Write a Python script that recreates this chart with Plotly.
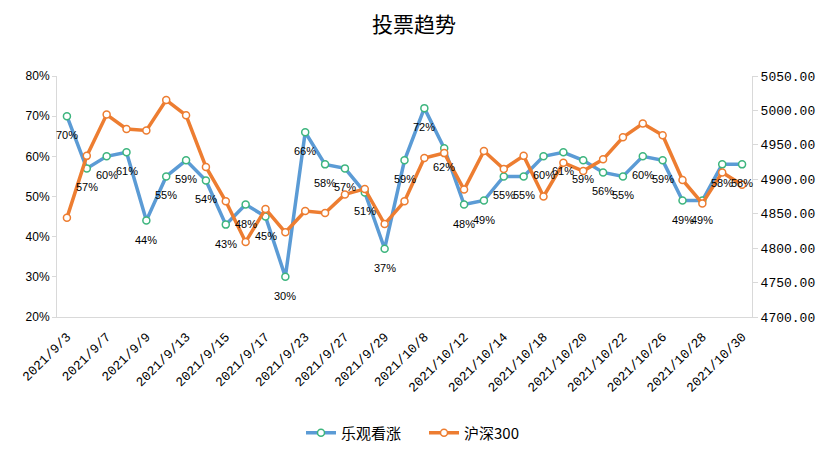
import plotly.graph_objects as go

dates = ["2021/9/3", "2021/9/6", "2021/9/7", "2021/9/8", "2021/9/9", "2021/9/10",
         "2021/9/13", "2021/9/14", "2021/9/15", "2021/9/16", "2021/9/17",
         "2021/9/22", "2021/9/23", "2021/9/24", "2021/9/27", "2021/9/28",
         "2021/9/29", "2021/9/30", "2021/10/8", "2021/10/11", "2021/10/12",
         "2021/10/13", "2021/10/14", "2021/10/15", "2021/10/18", "2021/10/19",
         "2021/10/20", "2021/10/21", "2021/10/22", "2021/10/25", "2021/10/26",
         "2021/10/27", "2021/10/28", "2021/10/29", "2021/10/30"]

bullish = [0.70, 0.57, 0.60, 0.61, 0.44, 0.55, 0.59, 0.54, 0.43, 0.48, 0.45,
           0.30, 0.66, 0.58, 0.57, 0.51, 0.37, 0.59, 0.72, 0.62, 0.48, 0.49,
           0.55, 0.55, 0.60, 0.61, 0.59, 0.56, 0.55, 0.60, 0.59, 0.49, 0.49,
           0.58, 0.58]

csi300 = [4844, 4934, 4994, 4973, 4971, 5015, 4993, 4918, 4868, 4809, 4857,
          4823, 4854, 4851, 4878, 4886, 4835, 4868, 4931, 4938, 4885, 4941,
          4915, 4934, 4875, 4924, 4912, 4929, 4961, 4981, 4964, 4899, 4865,
          4910, 4892]

tick_dates = dates[0::2]

name_bull = "乐观看涨"
name_csi = "沪深300"
title_text = "投票趋势"

BLUE = "#5B9BD5"
GREEN = "#3DB57E"
ORANGE = "#ED7D31"
AXIS = "#D9D9D9"
CJK = "Noto Sans CJK SC"
MONO = "Liberation Mono"

# the page body has an 8px margin; size the figure so it fits the window
W, H = 819, 465

fig = go.Figure()
fig.add_trace(go.Scatter(
    x=dates, y=bullish, name=name_bull, mode="lines+markers",
    line=dict(color=BLUE, width=3.5),
    marker=dict(size=7, color="white", line=dict(color=GREEN, width=1.5)),
    yaxis="y", hoverinfo="skip"))
fig.add_trace(go.Scatter(
    x=dates, y=csi300, name=name_csi, mode="lines+markers",
    line=dict(color=ORANGE, width=3.5),
    marker=dict(size=7, color="white", line=dict(color=ORANGE, width=1.5)),
    yaxis="y2", hoverinfo="skip"))

annotations = []
for d, v in zip(dates, bullish):
    annotations.append(dict(
        x=d, y=v, xref="x", yref="y", text=f"{round(v*100)}%",
        showarrow=False, yshift=-19,
        font=dict(family="Liberation Sans", size=11, color="#000000")))

fig.update_layout(
    width=W, height=H,
    margin=dict(l=43, r=73, t=68, b=156),
    paper_bgcolor="white", plot_bgcolor="white",
    title=dict(text=title_text, x=406 / W, xanchor="center", xref="container",
               y=1 - 17 / H, yanchor="middle", yref="container",
               font=dict(family=CJK, size=21, color="#000000")),
    showlegend=True,
    legend=dict(orientation="h", x=416 / W, xanchor="center", xref="container",
                y=1 - 425 / H, yanchor="middle", yref="container",
                font=dict(family=CJK, size=15, color="#000000"),
                itemwidth=30, entrywidth=78, traceorder="normal"),
    xaxis=dict(type="category", range=[-0.5, len(dates) - 0.5],
               tickmode="array", tickvals=tick_dates, ticktext=tick_dates,
               tickangle=-45, showgrid=False, showline=True, linecolor=AXIS,
               linewidth=1, ticks="", ticklabelstandoff=6,
               tickfont=dict(family=MONO, size=13, color="#000000")),
    yaxis=dict(range=[0.2, 0.8], dtick=0.1, tickformat=".0%", showgrid=False,
               zeroline=False, showline=True, linecolor=AXIS, linewidth=1,
               ticks="outside", ticklen=4, tickcolor=AXIS,
               tickfont=dict(family="Liberation Sans", size=12, color="#000000")),
    yaxis2=dict(range=[4700, 5050], dtick=50, tickformat=".2f", overlaying="y",
                side="right", showgrid=False, zeroline=False, showline=True,
                linecolor=AXIS, linewidth=1, ticks="outside", ticklen=5,
                tickcolor=AXIS,
                tickfont=dict(family=MONO, size=13, color="#000000")),
    annotations=annotations,
)

fig.write_html("out.html")
